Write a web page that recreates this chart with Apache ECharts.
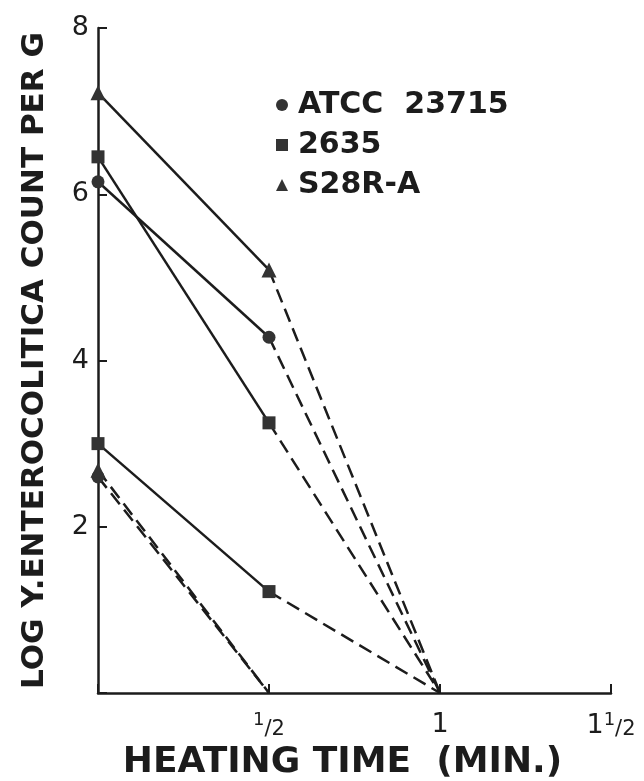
<!DOCTYPE html>
<html>
<head>
<meta charset="utf-8">
<script src="https://cdn.jsdelivr.net/npm/echarts@6/dist/echarts.min.js"></script>
<style>
  html, body { margin: 0; padding: 0; background: #fff; }
  #chart { width: 644px; height: 781px; }
</style>
</head>
<body>
<div id="chart"></div>
<script>
// Heating time (min) at which counts were taken
const timesMin = [0, 0.5, 1];
const timesShort = [0, 0.5];

// Log Y. enterocolitica count per g, two runs per strain
const atccRunA = [6.15, 4.28, 0];
const atccRunB = [2.6, 0];
const s2635RunA = [6.45, 3.25, 0];
const s2635RunB = [3.0, 1.22, 0];
const s28rRunA = [7.22, 5.09, 0];
const s28rRunB = [2.68, 0];

const strainNames = ['ATCC  23715', '2635', 'S28R-A'];
const strainSymbols = ['circle', 'rect', 'triangle'];

const xTickLabels = { 0.5: '{s|1}{f|/2}', 1: '1', 1.5: '1{s|1}{f|/2}' };
const yTickLabels = [2, 4, 6, 8];

const INK = '#1c1c1c';
const FONT = 'DejaVu Sans';

// Solid segments join measured counts; the final dashed segment runs down to
// zero (below detection).
function runSeries(name, symbol, xs, ys) {
  const out = [];
  const n = ys.length;
  const pts = xs.map((x, i) => [x, ys[i]]);
  const size = symbol === 'triangle' ? 15 : 13;
  if (n > 2) {
    out.push({
      name, type: 'line', symbol, symbolSize: size,
      data: pts.slice(0, n - 1),
      lineStyle: { color: INK, width: 2.5, type: 'solid' },
      itemStyle: { color: '#333' },
      z: 3
    });
  }
  out.push({
    name, type: 'line',
    data: pts.slice(n - 2).map((p, i) => ({
      value: p,
      symbol: (i === 0 && n === 2) ? symbol : 'none'
    })),
    symbol, symbolSize: size,
    lineStyle: { color: INK, width: 2.5, type: [14, 7] },
    itemStyle: { color: '#333' },
    z: 2
  });
  return out;
}

const series = [].concat(
  runSeries(strainNames[0], strainSymbols[0], timesMin, atccRunA),
  runSeries(strainNames[0], strainSymbols[0], timesShort, atccRunB),
  runSeries(strainNames[1], strainSymbols[1], timesMin, s2635RunA),
  runSeries(strainNames[1], strainSymbols[1], timesMin, s2635RunB),
  runSeries(strainNames[2], strainSymbols[2], timesMin, s28rRunA),
  runSeries(strainNames[2], strainSymbols[2], timesShort, s28rRunB)
);
series.forEach(s => { s.animation = false; });

const chart = echarts.init(document.getElementById('chart'), null, { renderer: 'canvas' });
chart.setOption({
  backgroundColor: '#fff',
  animation: false,
  grid: { left: 98, right: 33, top: 28, bottom: 88, containLabel: false, outerBoundsMode: 'none' },
  legend: {
    orient: 'vertical',
    left: 271,
    top: 85,
    itemGap: 10,
    itemWidth: 12,
    itemHeight: 12,
    data: strainNames.map((n, i) => ({ name: n, icon: strainSymbols[i] })),
    textStyle: { color: INK, fontFamily: FONT, fontWeight: 'bold', fontSize: 30, padding: [0, 0, 0, 5] },
    selectedMode: false,
    itemStyle: { color: '#333' }
  },
  xAxis: {
    type: 'value', min: 0, max: 1.5, interval: 0.5,
    name: 'HEATING TIME  (MIN.)',
    nameLocation: 'middle',
    nameGap: 50,
    nameTextStyle: { color: INK, fontFamily: FONT, fontWeight: 'bold', fontSize: 36, padding: [0, 24, 0, 0] },
    axisLine: { lineStyle: { color: INK, width: 2.5 } },
    axisTick: { inside: true, length: 9, lineStyle: { color: INK, width: 2 } },
    splitLine: { show: false },
    axisLabel: {
      margin: 18,
      color: INK, fontFamily: FONT, fontSize: 27,
      formatter: v => xTickLabels[v] || '',
      rich: {
        s: { fontSize: 18, fontFamily: FONT, color: INK, verticalAlign: 'top', padding: [0, 0, 8, 0] },
        f: { fontSize: 21, fontFamily: FONT, color: INK, verticalAlign: 'bottom', padding: [8, 0, 0, 0] }
      }
    }
  },
  yAxis: {
    type: 'value', min: 0, max: 8, interval: 2,
    name: 'LOG Y.ENTEROCOLITICA COUNT PER G',
    nameLocation: 'middle',
    nameGap: 48,
    nameTextStyle: { color: INK, fontFamily: FONT, fontWeight: 'bold', fontSize: 31 },
    axisLine: { lineStyle: { color: INK, width: 2.5 } },
    axisTick: { inside: true, length: 9, lineStyle: { color: INK, width: 2 } },
    splitLine: { show: false },
    axisLabel: {
      margin: 9,
      color: INK, fontFamily: FONT, fontSize: 27,
      formatter: v => yTickLabels.indexOf(v) >= 0 ? String(v) : ''
    }
  },
  series
});
</script>
</body>
</html>
